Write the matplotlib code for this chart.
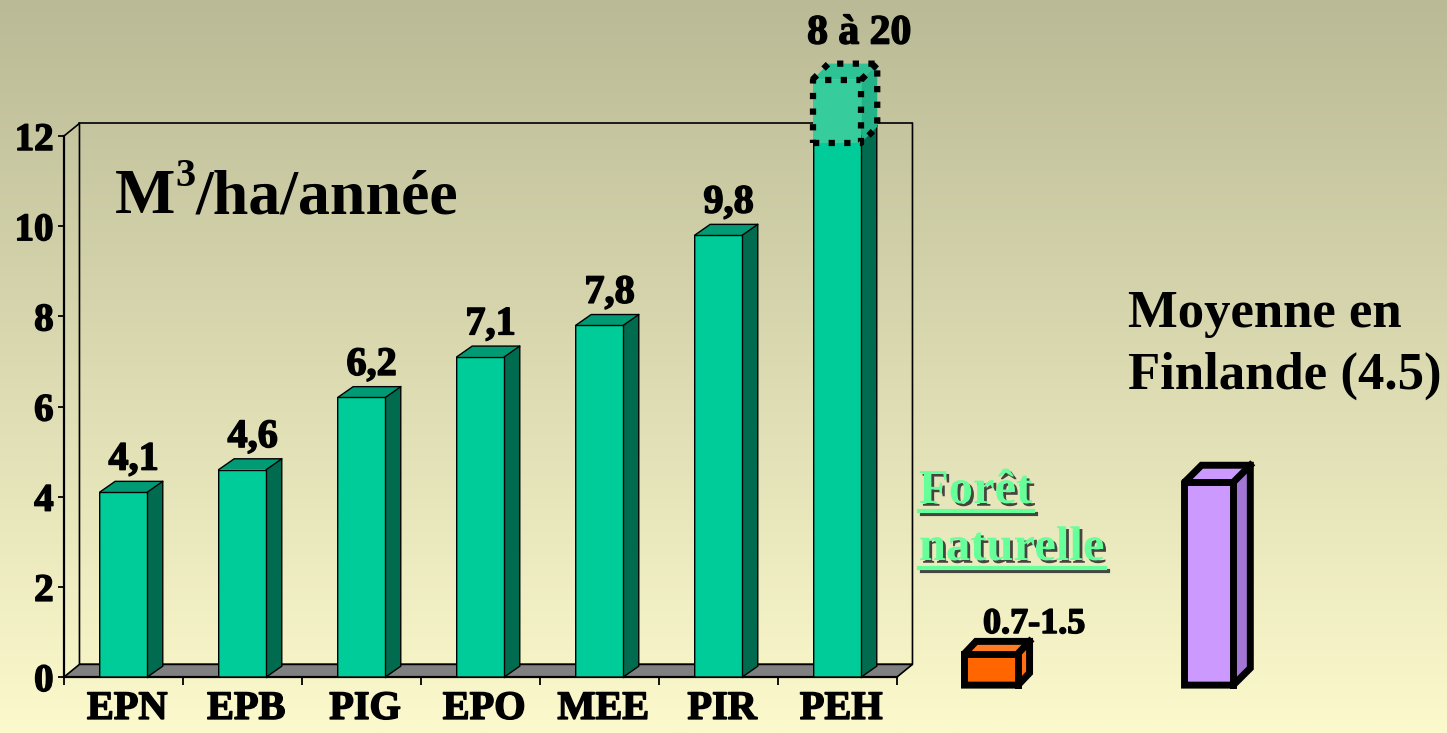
import numpy as np
import matplotlib.pyplot as plt
from matplotlib.patches import Polygon
import matplotlib.patheffects as pe

# data
species = ['EPN', 'EPB', 'PIG', 'EPO', 'MEE', 'PIR', 'PEH']
growth = [4.1, 4.6, 6.2, 7.1, 7.8, 9.8, 12.0]
growth_labels = ['4,1', '4,6', '6,2', '7,1', '7,8', '9,8', '8 à 20']
natural_low = 0.7
natural_label = '0.7-1.5'
finland_mean = 4.5

W, H = 1447, 733
fig = plt.figure(figsize=(W / 100, H / 100), dpi=100)

# background gradient
bg = fig.add_axes([0, 0, 1, 1], zorder=-10)
top_c = np.array([186, 186, 150]) / 255
bot_c = np.array([252, 250, 204]) / 255
t = np.linspace(0, 1, 256)[:, None]
grad = top_c * (1 - t) + bot_c * t
bg.imshow(grad[:, None, :], aspect='auto', extent=[0, 1, 0, 1])
bg.axis('off')

serif = 'Liberation Serif'
heavy = [pe.withStroke(linewidth=1.1, foreground='black')]

# main axes: x in category units, y in m3/ha/year
x0px, x1px, y0px, y1px = 64, 897, 677, 136
ax = fig.add_axes([x0px / W, (H - y0px) / H, (x1px - x0px) / W, (y0px - y1px) / H])
ax.patch.set_alpha(0)
n = len(species)
ax.set_xlim(0, n)
ax.set_ylim(0, 12)
for s in ['top', 'right']:
    ax.spines[s].set_visible(False)
for s in ['left', 'bottom']:
    ax.spines[s].set_linewidth(1.6)
ax.set_yticks(range(0, 13, 2))
ax.set_yticklabels([str(v) for v in range(0, 13, 2)], fontfamily=serif,
                   fontweight='bold', fontsize=28)
ax.tick_params(axis='y', length=4.5, width=1.3, pad=3)
ax.set_xticks(range(n + 1))
ax.set_xticklabels([])
ax.tick_params(axis='x', which='major', length=6, width=1.3)
ax.set_xticks([i + 0.53 for i in range(n)], minor=True)
ax.set_xticklabels(species, minor=True, fontfamily=serif, fontweight='bold', fontsize=29)
ax.tick_params(axis='x', which='minor', length=0, pad=10)
for lab in ax.get_yticklabels() + ax.get_xticklabels(minor=True):
    lab.set_path_effects(heavy)

# walls and floor
dx, dy = 0.13, 0.28
ax.add_patch(Polygon([(0, 0), (n, 0), (n + dx, dy), (dx, dy)], closed=True,
                     fc='#808080', ec='black', lw=1.2, zorder=2, clip_on=False))
ax.plot([0, dx, dx, n + dx, n + dx], [12, 12 + dy, dy, dy, 12 + dy], color='black',
        lw=1.2, zorder=1, clip_on=False)
ax.plot([dx, n + dx], [12 + dy, 12 + dy], color='black', lw=1.2, zorder=1, clip_on=False)


def box3d(x, w, y, h, ddx, ddy, front, side, top, lw=1.0, z=3):
    faces = [
        ([(x, y), (x + w, y), (x + w, y + h), (x, y + h)], front),
        ([(x + w, y), (x + w + ddx, y + ddy), (x + w + ddx, y + h + ddy), (x + w, y + h)], side),
        ([(x, y + h), (x + w, y + h), (x + w + ddx, y + h + ddy), (x + ddx, y + h + ddy)], top),
    ]
    for pts, c in faces:
        ax.add_patch(Polygon(pts, closed=True, fc=c, ec='none', zorder=z, clip_on=False))
    outline = [(x, y), (x + w, y), (x + w + ddx, y + ddy), (x + w + ddx, y + h + ddy),
               (x + ddx, y + h + ddy), (x, y + h)]
    ax.add_patch(Polygon(outline, closed=True, fc='none', ec='black', lw=lw, zorder=z + 0.2,
                         clip_on=False, joinstyle='miter'))
    ax.plot([x, x + w, x + w], [y + h, y + h, y], color='black', lw=lw, zorder=z + 0.1,
            clip_on=False, solid_joinstyle='miter')
    ax.plot([x + w, x + w + ddx], [y + h, y + h + ddy], color='black', lw=lw,
            zorder=z + 0.1, clip_on=False)


bw, bdx, bdy = 0.40, 0.13, 0.24
for i, v in enumerate(growth):
    box3d(i + 0.30, bw, 0, v, bdx, bdy, '#00CC99', '#006B4F', '#009B74', lw=1.0, z=3)
    if i < n - 1:
        ax.text(i + 0.30 + (bw + bdx) / 2 + 0.02, v + 0.5, growth_labels[i], ha='center',
                va='baseline', fontfamily=serif, fontweight='bold', fontsize=29,
                zorder=6, clip_on=False, path_effects=heavy)

# overflow box on the last bar
ex, ew, ey0, ey1 = n - 1 + 0.29, 0.41, 11.85, 13.25
edx, edy = 0.134, 0.355
for pts, c in [
    ([(ex, ey0), (ex + ew, ey0), (ex + ew, ey1), (ex, ey1)], '#36CC9C'),
    ([(ex + ew, ey0), (ex + ew + edx, ey0 + edy), (ex + ew + edx, ey1 + edy), (ex + ew, ey1)], '#22B488'),
    ([(ex, ey1), (ex + ew, ey1), (ex + ew + edx, ey1 + edy), (ex + edx, ey1 + edy)], '#2DC394'),
]:
    ax.add_patch(Polygon(pts, closed=True, fc=c, ec='none', zorder=4, clip_on=False))
dot = dict(color='black', lw=4.5, ls=(0, (1, 1.5)), dash_capstyle='butt',
           zorder=5, clip_on=False)
ax.plot([ex, ex + ew, ex + ew, ex, ex], [ey0, ey0, ey1, ey1, ey0], **dot)
ax.plot([ex, ex + edx, ex + ew + edx, ex + ew + edx, ex + ew],
        [ey1, ey1 + edy, ey1 + edy, ey0 + edy, ey0], **dot)
ax.plot([ex + ew, ex + ew + edx], [ey1, ey1 + edy], **dot)
ax.text(ex + (ew + edx) / 2 + 0.12, 14.05, growth_labels[-1], ha='center', va='baseline',
        fontfamily=serif, fontweight='bold', fontsize=30, clip_on=False, path_effects=heavy)

# natural forest and Finland average boxes
base = -0.18
box3d(7.567, 0.45, base, natural_low, 0.097, 0.27, '#FF6600', '#FF6E10', '#FF7A22', lw=5, z=3)
box3d(9.416, 0.41, base, finland_mean, 0.143, 0.377, '#CC99FF', '#A276D2', '#CC99FF', lw=5, z=3)


# texts
def ftext(xp, yp, s, **kw):
    return fig.text(xp / W, (H - yp) / H, s, fontfamily=serif, fontweight='bold',
                    va='baseline', **kw)


renderer = fig.canvas.get_renderer()
m = ftext(115, 213, 'M', fontsize=46)
mx = m.get_window_extent(renderer).x1
sup = fig.text(mx / W, (H - 186) / H, '3', fontfamily=serif, fontweight='bold',
               fontsize=29, va='baseline')
sx = sup.get_window_extent(renderer).x1
fig.text(sx / W, (H - 213) / H, '/ha/année', fontfamily=serif, fontweight='bold',
         fontsize=46, va='baseline')

ftext(1128, 327, 'Moyenne en', fontsize=38)
ftext(1128, 389, 'Finlande (4.5)', fontsize=38)
ftext(983, 633, natural_label, fontsize=26, path_effects=heavy)

shadow = [pe.SimplePatchShadow(offset=(2, -2), shadow_rgbFace='#333333', alpha=0.9), pe.Normal()]
for txt, yb, wpx in [('Forêt', 503, 114), ('naturelle', 560, 186)]:
    fig.text(919 / W, (H - yb) / H, txt, fontfamily=serif, fontweight='bold', fontsize=35,
             color='#66FF99', va='baseline', path_effects=shadow)
    fig.lines.append(plt.Line2D([919 / W, (919 + wpx) / W], [(H - yb - 8) / H] * 2,
                                transform=fig.transFigure, color='#66FF99', lw=3,
                                path_effects=[pe.SimpleLineShadow(offset=(2, -2), shadow_color='#333333', alpha=0.9), pe.Normal()]))

fig.savefig('out.png', dpi=100)
